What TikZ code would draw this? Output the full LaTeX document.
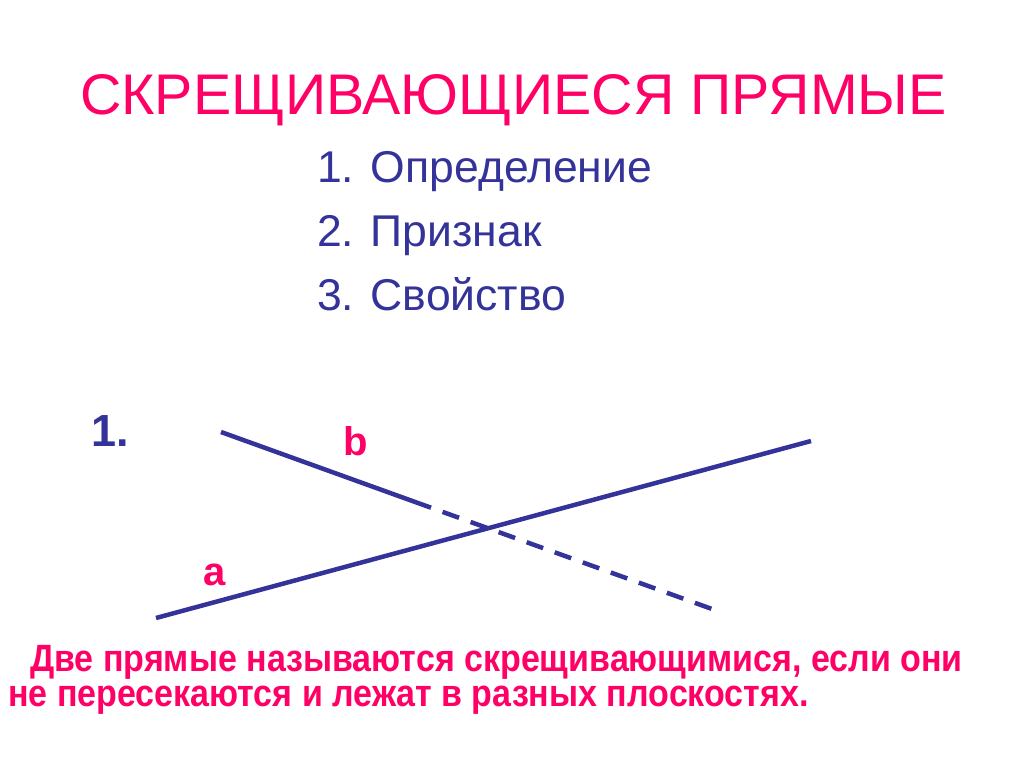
\documentclass[tikz,border=0pt]{standalone}
\usepackage{fontspec}
\setmainfont{Liberation Sans}
\newfontfamily\narrowfont[FakeStretch=0.895]{Liberation Sans}
\definecolor{pinkred}{HTML}{FF0066}
\definecolor{navy}{HTML}{333399}
\begin{document}
\begin{tikzpicture}[x=1pt,y=-1pt,
  txt/.style={inner sep=0pt, anchor=base west},
  title/.style={txt, text=pinkred, font=\fontsize{57.3}{60}\selectfont},
  item/.style={txt, text=navy, font=\fontsize{44.5}{46}\selectfont},
  lbl/.style={txt, text=pinkred, font=\fontsize{40}{42}\selectfont\bfseries},
  num/.style={txt, text=navy, font=\fontsize{45}{47}\selectfont\bfseries},
  defn/.style={txt, text=pinkred, font=\narrowfont\fontsize{38}{40}\selectfont\bfseries},
  skewline/.style={draw=navy, line width=4.5pt}]
\useasboundingbox[fill=white] (0,0) rectangle (1024,767);
\node[title] (t) at (80,114.3) {СКРЕЩИВАЮЩИЕСЯ ПРЯМЫЕ};
\node[item] (i1) at (317,182.3) {1. Определение};
\node[item] (i2) at (317,246.7) {2. Признак};
\node[item] (i3) at (317,310.7) {3. Свойство};
\node[num] (n1) at (91,446) {1.};
\node[lbl] (lb) at (343,455) {b};
\node[lbl] (la) at (203,585) {a};
\coordinate (A1) at (156,618);
\coordinate (A2) at (811,441);
\coordinate (B1) at (221,432);
\coordinate (Bm) at (431,507.7);
\coordinate (B2) at (712,609);
\draw[skewline] (A1) -- (A2);
\draw[skewline] (B1) -- (Bm);
\draw[skewline, dash pattern=on 17.5pt off 12.3pt, dash phase=17.5pt] (Bm) -- (B2);
\node[defn] (d1) at (30,671) {Две прямые называются скрещивающимися, если они};
\node[defn] (d2) at (8,706) {не пересекаются и лежат в разных плоскостях.};
\end{tikzpicture}
\end{document}
